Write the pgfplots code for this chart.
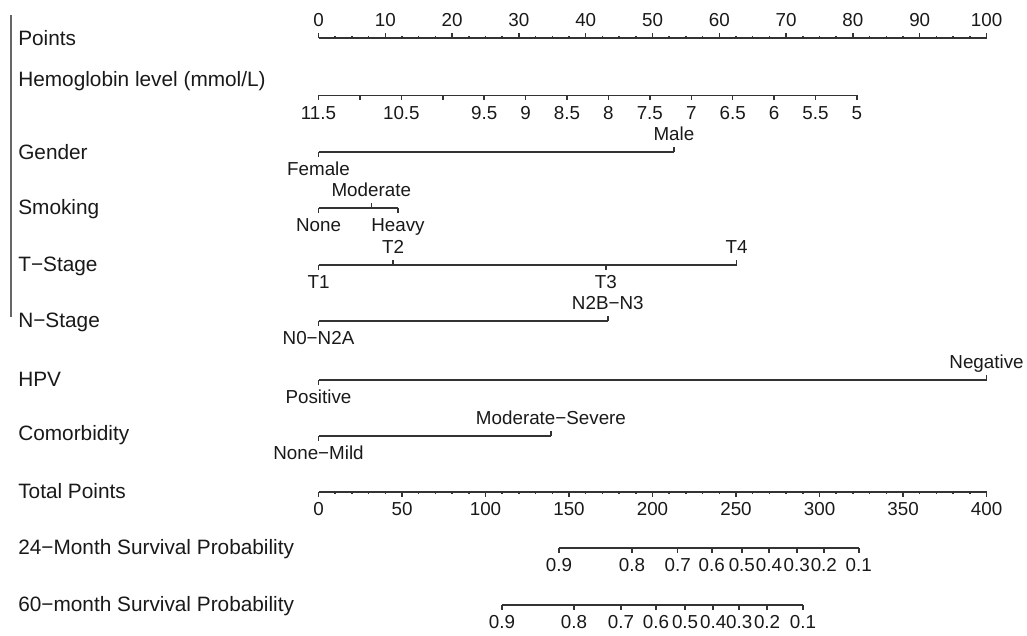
\documentclass[border=0pt]{standalone}
\usepackage{fontspec}
\setmainfont{Liberation Sans}
\usepackage{pgfplots}
\pgfplotsset{compat=1.18}
\pgfdeclareplotmark{tu}{\pgfpathmoveto{\pgfpointorigin}\pgfpathlineto{\pgfpoint{0pt}{2.4pt}}\pgfusepathqstroke}
\pgfdeclareplotmark{td}{\pgfpathmoveto{\pgfpointorigin}\pgfpathlineto{\pgfpoint{0pt}{-2.4pt}}\pgfusepathqstroke}
\pgfdeclareplotmark{tus}{\pgfpathmoveto{\pgfpointorigin}\pgfpathlineto{\pgfpoint{0pt}{1.2pt}}\pgfusepathqstroke}
\pgfdeclareplotmark{tds}{\pgfpathmoveto{\pgfpointorigin}\pgfpathlineto{\pgfpoint{0pt}{-1.2pt}}\pgfusepathqstroke}
\newcommand\levfont{\fontsize{9.4}{10}\selectfont}
\newcommand\rowfont{\fontsize{10.4}{12}\selectfont}
\definecolor{ln}{gray}{0.2}
\begin{document}
\begin{tikzpicture}
\begin{axis}[scale only axis, width=513.5pt, height=318pt,
  xmin=-47.68, xmax=106.06, ymin=0, ymax=636, y dir=reverse,
  axis lines=none, clip=false,
  sc/.style={ln, line width=0.75pt, mark=none},
  tk/.style={only marks, mark=#1, mark options={solid, ln, line width=0.75pt}},
  lab/.style={draw=none, mark=none, nodes near coords, point meta=explicit symbolic,
    every node near coord/.append style={anchor=base, inner sep=0pt, yshift=#1, font=\levfont, text=black!90}},
  above/.style={lab=5.8pt},
  below/.style={lab=-11.9pt},
]
\path (rel axis cs:0,0) rectangle (rel axis cs:1,1);
% left margin line
\addplot[black!60, line width=0.9pt] coordinates {(-46.03,15) (-46.03,317)};
% row labels
\addplot[draw=none, mark=none, nodes near coords, point meta=explicit symbolic,
  every node near coord/.append style={anchor=base west, inner sep=0pt, yshift=-3.7pt, font=\rowfont, text=black!90}]
coordinates {
(-45.0,38) [Points]
(-45.0,79) [{Hemoglobin level (mmol/L)}]
(-45.0,152) [Gender]
(-45.0,207.5) [Smoking]
(-45.0,264) [T−Stage]
(-45.0,320.5) [N−Stage]
(-45.0,379) [HPV]
(-45.0,433.5) [Comorbidity]
(-45.0,491.5) [Total Points]
(-45.0,547) [24−Month Survival Probability]
(-45.0,604) [60−month Survival Probability]
};
% ---------------- Points
\addplot[sc] coordinates {(0,38) (100,38)};
\addplot[tk=tu] coordinates {(0,38) (10,38) (20,38) (30,38) (40,38) (50,38) (60,38) (70,38) (80,38) (90,38) (100,38)};
\addplot[tk=tus] coordinates {(2.5,38) (5,38) (7.5,38) (12.5,38) (15,38) (17.5,38) (22.5,38) (25,38) (27.5,38) (32.5,38) (35,38) (37.5,38) (42.5,38) (45,38) (47.5,38) (52.5,38) (55,38) (57.5,38) (62.5,38) (65,38) (67.5,38) (72.5,38) (75,38) (77.5,38) (82.5,38) (85,38) (87.5,38) (92.5,38) (95,38) (97.5,38)};
\addplot[above] coordinates {(0,38) [0] (10,38) [10] (20,38) [20] (30,38) [30] (40,38) [40] (50,38) [50] (60,38) [60] (70,38) [70] (80,38) [80] (90,38) [90] (100,38) [100]};
% ---------------- Hemoglobin
\addplot[sc] coordinates {(0,95.5) (80.6,95.5)};
\addplot[tk=td] coordinates {(0,95.5) (6.2,95.5) (12.4,95.5) (18.6,95.5) (24.8,95.5) (31.0,95.5) (37.2,95.5) (43.4,95.5) (49.6,95.5) (55.8,95.5) (62.0,95.5) (68.2,95.5) (74.4,95.5) (80.6,95.5)};
\addplot[below] coordinates {(0,95.5) [11.5] (12.4,95.5) [10.5] (24.8,95.5) [9.5] (31.0,95.5) [9] (37.2,95.5) [8.5] (43.4,95.5) [8] (49.6,95.5) [7.5] (55.8,95.5) [7] (62.0,95.5) [6.5] (68.2,95.5) [6] (74.4,95.5) [5.5] (80.6,95.5) [5]};
% ---------------- Gender
\addplot[sc] coordinates {(0,152) (53.2,152)};
\addplot[tk=td] coordinates {(0,152)};
\addplot[tk=tu] coordinates {(53.2,152)};
\addplot[below] coordinates {(0,152) [Female]};
\addplot[above] coordinates {(53.2,152) [Male]};
% ---------------- Smoking
\addplot[sc] coordinates {(0,208) (11.9,208)};
\addplot[tk=td] coordinates {(0,208) (11.9,208)};
\addplot[tk=tu] coordinates {(7.9,208)};
\addplot[below] coordinates {(0,208) [None] (11.9,208) [Heavy]};
\addplot[above] coordinates {(7.9,208) [Moderate]};
% ---------------- T-Stage
\addplot[sc] coordinates {(0,265) (62.6,265)};
\addplot[tk=td] coordinates {(0,265) (43.0,265)};
\addplot[tk=tu] coordinates {(11.15,265) (62.6,265)};
\addplot[below] coordinates {(0,265) [T1] (43.0,265) [T3]};
\addplot[above] coordinates {(11.15,265) [T2] (62.6,265) [T4]};
% ---------------- N-Stage
\addplot[sc] coordinates {(0,321) (43.3,321)};
\addplot[tk=td] coordinates {(0,321)};
\addplot[tk=tu] coordinates {(43.3,321)};
\addplot[below] coordinates {(0,321) [N0−N2A]};
\addplot[above] coordinates {(43.3,321) [N2B−N3]};
% ---------------- HPV
\addplot[sc] coordinates {(0,380) (100,380)};
\addplot[tk=td] coordinates {(0,380)};
\addplot[tk=tu] coordinates {(100,380)};
\addplot[below] coordinates {(0,380) [Positive]};
\addplot[above] coordinates {(100,380) [Negative]};
% ---------------- Comorbidity
\addplot[sc] coordinates {(0,436) (34.8,436)};
\addplot[tk=td] coordinates {(0,436)};
\addplot[tk=tu] coordinates {(34.8,436)};
\addplot[below] coordinates {(0,436) [None−Mild]};
\addplot[above] coordinates {(34.8,436) [Moderate−Severe]};
% ---------------- Total Points
\addplot[sc] table[x expr=\thisrow{t}/4, y expr=492] {t
0
400
};
\addplot[tk=td] table[x expr=\thisrow{t}/4, y expr=492] {t
0
50
100
150
200
250
300
350
400
};
\addplot[tk=tds] table[x expr=\thisrow{t}/4, y expr=492] {t
10
20
30
40
60
70
80
90
110
120
130
140
160
170
180
190
210
220
230
240
260
270
280
290
310
320
330
340
360
370
380
390
};
\addplot[below] table[x expr=\thisrow{t}/4, y expr=492, meta=l] {t l
0 0
50 50
100 100
150 150
200 200
250 250
300 300
350 350
400 400
};
% ---------------- 24-month survival
\addplot[sc] table[x expr=\thisrow{t}/4, y expr=548] {t
144.0
323.5
};
\addplot[tk=td] table[x expr=\thisrow{t}/4, y expr=548] {t
144.0
187.7
215.1
235.5
253.5
269.7
286.4
302.6
323.5
};
\addplot[below] table[x expr=\thisrow{t}/4, y expr=548, meta=l] {t l
144.0 0.9
187.7 0.8
215.1 0.7
235.5 0.6
253.5 0.5
269.7 0.4
286.4 0.3
302.6 0.2
323.5 0.1
};
% ---------------- 60-month survival
\addplot[sc] table[x expr=\thisrow{t}/4, y expr=605] {t
109.9
290.1
};
\addplot[tk=td] table[x expr=\thisrow{t}/4, y expr=605] {t
109.9
153.0
181.1
202.1
219.5
236.3
251.9
268.6
290.1
};
\addplot[below] table[x expr=\thisrow{t}/4, y expr=605, meta=l] {t l
109.9 0.9
153.0 0.8
181.1 0.7
202.1 0.6
219.5 0.5
236.3 0.4
251.9 0.3
268.6 0.2
290.1 0.1
};
\end{axis}
\end{tikzpicture}
\end{document}
